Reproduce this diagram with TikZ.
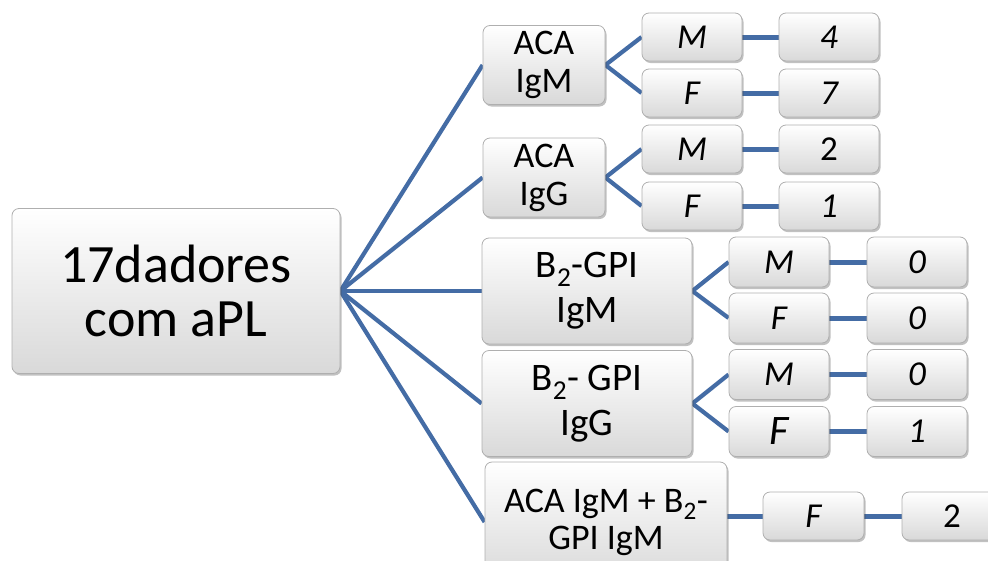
\documentclass[tikz,border=0pt]{standalone}
\usepackage{fontspec}
\setmainfont{Carlito}
\usetikzlibrary{shadows,backgrounds}
\definecolor{lineblue}{RGB}{68,108,165}
\definecolor{boxedge}{RGB}{175,175,175}
\begin{document}
\begin{tikzpicture}[x=1pt,y=-1pt,
  box/.style={draw=boxedge, line width=0.8pt, rounded corners=7pt,
    top color=white, bottom color=black!15,
    drop shadow={shadow xshift=1.5pt, shadow yshift=-2pt, opacity=0.35, fill=black!70},
    inner sep=0pt, align=center},
  rootbox/.style={box, minimum width=328pt, minimum height=165pt, font=\fontsize{54}{54}\selectfont},
  acabox/.style={box, minimum width=122pt, minimum height=79pt, font=\fontsize{36}{38}\selectfont},
  betabox/.style={box, minimum width=210pt, minimum height=106pt, font=\fontsize{39}{45}\selectfont},
  bothbox/.style={box, minimum width=242pt, minimum height=120pt, font=\fontsize{36}{37}\selectfont},
  sexbox/.style={box, minimum width=100pt, minimum height=48pt, font=\fontsize{35}{35}\selectfont\itshape},
  link/.style={draw=lineblue, line width=4.2pt},
  hlink/.style={draw=lineblue, line width=5pt}]
\useasboundingbox (0,0) rectangle (988,560);
\clip (0,0) rectangle (988,560);

\node[rootbox] (root) at (176,291) {17dadores\\com aPL};

\node[acabox] (a1) at (544,65) {ACA\\IgM};
\node[acabox] (a2) at (544,177.5) {ACA\\IgG};
\node[betabox] (a3) at (587,291) {B\textsubscript{2}-GPI\\IgM};
\node[betabox] (a4) at (587,403.5) {B\textsubscript{2}- GPI\\IgG};
\node[bothbox] (a5) at (606,522) {ACA IgM + B\textsubscript{2}-\\GPI IgM};

\node[sexbox] (s1) at (692,37) {M};
\node[sexbox] (s2) at (692,93) {F};
\node[sexbox] (s3) at (692,149) {M};
\node[sexbox] (s4) at (692,206) {F};
\node[sexbox, minimum height=50pt] (s5) at (779,262) {M};
\node[sexbox, minimum height=50pt] (s6) at (779,318) {F};
\node[sexbox, minimum height=50pt] (s7) at (779,374.5) {M};
\node[sexbox, minimum height=50pt, font=\fontsize{42}{42}\selectfont\itshape] (s8) at (779,431.5) {F};
\node[sexbox, minimum width=101pt] (s9) at (813.5,516) {F};

\node[sexbox] (c1) at (829,37) {4};
\node[sexbox] (c2) at (829,93) {7};
\node[sexbox, font=\fontsize{35}{35}\selectfont] (c3) at (829,149) {2};
\node[sexbox] (c4) at (829,206) {1};
\node[sexbox, minimum height=50pt] (c5) at (917,262) {0};
\node[sexbox, minimum height=50pt] (c6) at (917,318) {0};
\node[sexbox, minimum height=50pt] (c7) at (917,374.5) {0};
\node[sexbox, minimum height=50pt] (c8) at (917,431.5) {1};
\node[sexbox, font=\fontsize{35}{35}\selectfont] (c9) at (952,516) {2};

\begin{scope}[on background layer]
  \foreach \t in {a1,a2,a3,a4,a5} \draw[link] (root.east) -- (\t.west);
  \draw[link] (a1.east) -- (s1.west);
  \draw[link] (a1.east) -- (s2.west);
  \draw[link] (a2.east) -- (s3.west);
  \draw[link] (a2.east) -- (s4.west);
  \draw[link] (a3.east) -- (s5.west);
  \draw[link] (a3.east) -- (s6.west);
  \draw[link] (a4.east) -- (s7.west);
  \draw[link] (a4.east) -- (s8.west);
  \draw[hlink] (s9.west -| a5.east) -- (s9.west);
  \foreach \i in {1,...,9} \draw[hlink] (s\i.east) -- (c\i.west);
\end{scope}
\end{tikzpicture}
\end{document}
